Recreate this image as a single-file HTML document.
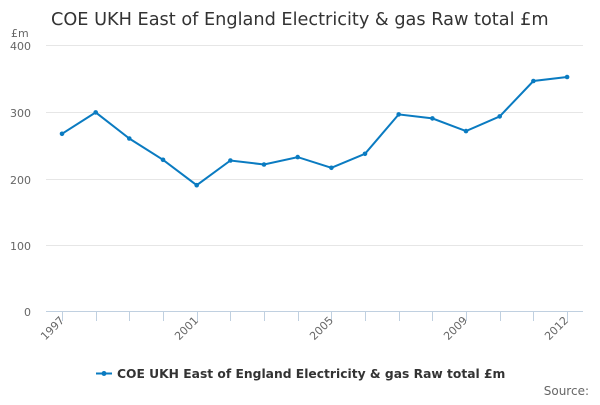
<!DOCTYPE html>
<html><head><meta charset="utf-8"><style>
body{margin:0;background:#fff;}
svg text{font-family:"DejaVu Sans","Liberation Sans",sans-serif;}
</style></head><body>
<svg width="600" height="400" xmlns="http://www.w3.org/2000/svg">
<rect width="600" height="400" fill="#fff"/>
<text x="51" y="25" font-size="17.7" fill="#333">COE UKH East of England Electricity &amp; gas Raw total £m</text>
<text x="11" y="37" font-size="11" fill="#666">£m</text>
<g stroke="#e6e6e6" stroke-width="1">
<line x1="46" x2="583" y1="45.5" y2="45.5"/>
<line x1="46" x2="583" y1="112.5" y2="112.5"/>
<line x1="46" x2="583" y1="179.5" y2="179.5"/>
<line x1="46" x2="583" y1="245.5" y2="245.5"/>
</g>
<g font-size="11" fill="#666" text-anchor="end">
<text x="31" y="50">400</text>
<text x="31" y="117">300</text>
<text x="31" y="184">200</text>
<text x="31" y="250">100</text>
<text x="31" y="316">0</text>
</g>
<line x1="46" x2="583" y1="311.5" y2="311.5" stroke="#c0d0e0"/>
<g stroke="#c0d0e0">
<line x1="62.5" x2="62.5" y1="311" y2="321"/>
<line x1="96.5" x2="96.5" y1="311" y2="321"/>
<line x1="129.5" x2="129.5" y1="311" y2="321"/>
<line x1="163.5" x2="163.5" y1="311" y2="321"/>
<line x1="197.5" x2="197.5" y1="311" y2="321"/>
<line x1="230.5" x2="230.5" y1="311" y2="321"/>
<line x1="264.5" x2="264.5" y1="311" y2="321"/>
<line x1="298.5" x2="298.5" y1="311" y2="321"/>
<line x1="331.5" x2="331.5" y1="311" y2="321"/>
<line x1="365.5" x2="365.5" y1="311" y2="321"/>
<line x1="399.5" x2="399.5" y1="311" y2="321"/>
<line x1="432.5" x2="432.5" y1="311" y2="321"/>
<line x1="466.5" x2="466.5" y1="311" y2="321"/>
<line x1="500.5" x2="500.5" y1="311" y2="321"/>
<line x1="533.5" x2="533.5" y1="311" y2="321"/>
<line x1="567.5" x2="567.5" y1="311" y2="321"/>
</g>
<g font-size="11" fill="#666" text-anchor="end">
<text transform="translate(65,321) rotate(-45)">1997</text>
<text transform="translate(199,321) rotate(-45)">2001</text>
<text transform="translate(334,321) rotate(-45)">2005</text>
<text transform="translate(468,321) rotate(-45)">2009</text>
<text transform="translate(569,321) rotate(-45)">2012</text>
</g>
<polyline fill="none" stroke="#0a7bc1" stroke-width="2" points="62,133.8 95.7,112.4 129.3,138.5 163,159.8 196.7,185.2 230.4,160.5 264,164.5 297.7,157.1 331.4,167.8 365,153.8 398.7,114.4 432.4,118.4 466,131.1 499.7,116.4 533.4,81 567.1,77"/>
<g fill="#0a7bc1">
<circle cx="62" cy="133.8" r="2.3"/><circle cx="95.7" cy="112.4" r="2.3"/><circle cx="129.3" cy="138.5" r="2.3"/><circle cx="163" cy="159.8" r="2.3"/><circle cx="196.7" cy="185.2" r="2.3"/><circle cx="230.4" cy="160.5" r="2.3"/><circle cx="264" cy="164.5" r="2.3"/><circle cx="297.7" cy="157.1" r="2.3"/><circle cx="331.4" cy="167.8" r="2.3"/><circle cx="365" cy="153.8" r="2.3"/><circle cx="398.7" cy="114.4" r="2.3"/><circle cx="432.4" cy="118.4" r="2.3"/><circle cx="466" cy="131.1" r="2.3"/><circle cx="499.7" cy="116.4" r="2.3"/><circle cx="533.4" cy="81" r="2.3"/><circle cx="567.1" cy="77" r="2.3"/>
</g>
<line x1="96" x2="112" y1="373.5" y2="373.5" stroke="#0a7bc1" stroke-width="2"/>
<circle cx="104" cy="373.5" r="2.5" fill="#0a7bc1"/>
<text x="117" y="378" font-size="12.3" font-weight="bold" fill="#333">COE UKH East of England Electricity &amp; gas Raw total £m</text>
<text x="589" y="395" font-size="12" fill="#666" text-anchor="end">Source:</text>
</svg>
</body></html>
